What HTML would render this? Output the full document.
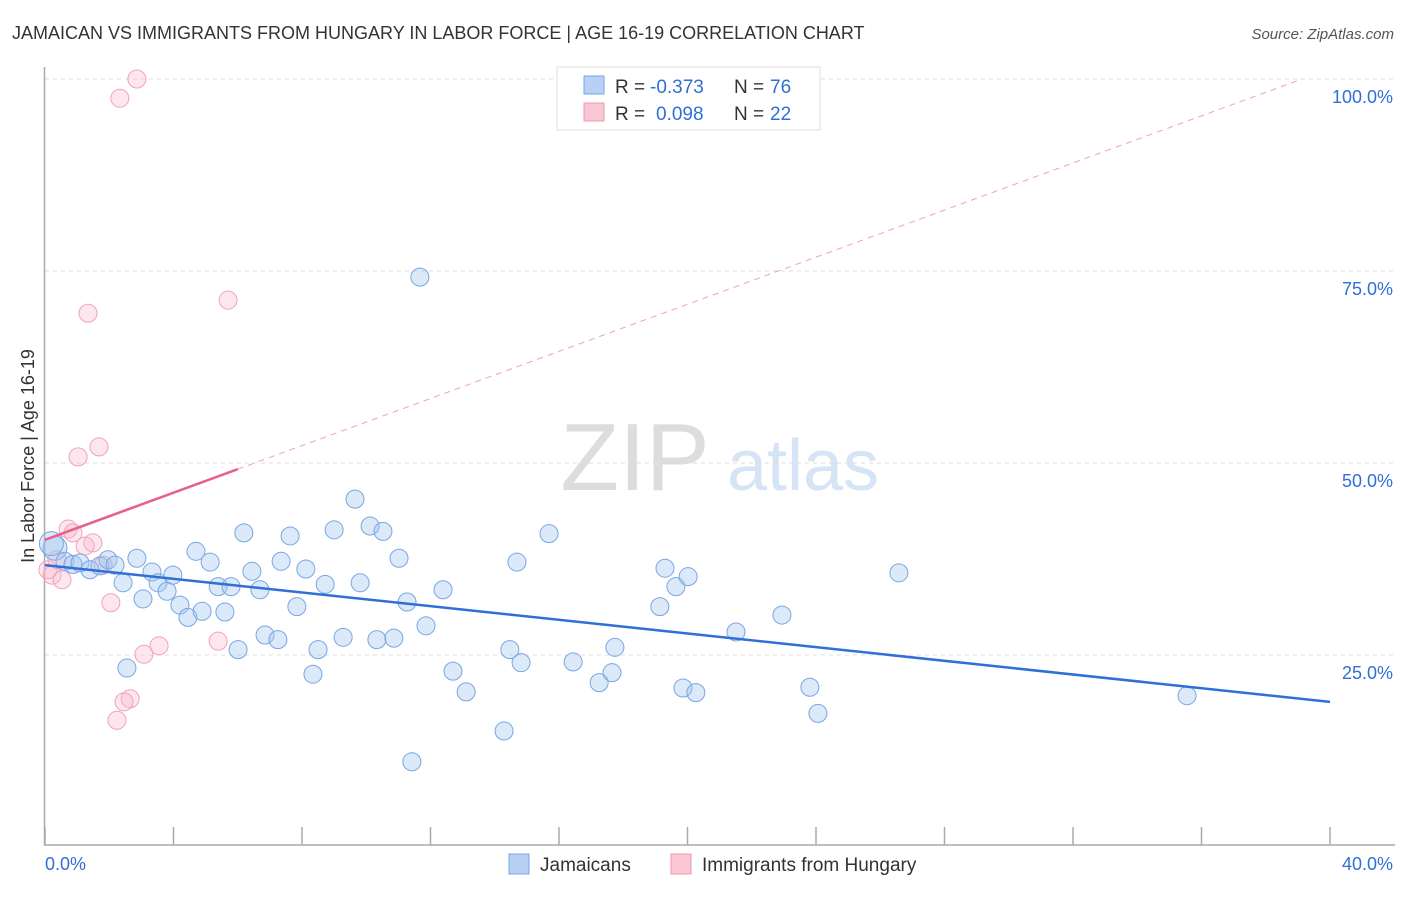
<!DOCTYPE html>
<html><head><meta charset="utf-8"><style>
body{margin:0;background:#fff;font-family:"Liberation Sans",sans-serif}
svg text{font-family:"Liberation Sans",sans-serif}
</style></head><body>
<svg width="1406" height="892" viewBox="0 0 1406 892" id="chart">
<text x="12" y="39" font-size="18" fill="#333">JAMAICAN VS IMMIGRANTS FROM HUNGARY IN LABOR FORCE | AGE 16-19 CORRELATION CHART</text>
<text x="1394" y="39" font-size="15" fill="#555" font-style="italic" text-anchor="end">Source: ZipAtlas.com</text>
<g>
<text x="635" y="490" font-size="96" fill="#ddd" font-family="Liberation Serif" text-anchor="middle">ZIP</text>
<text x="803" y="490" font-size="72" fill="#d6e4f5" text-anchor="middle">atlas</text>
</g>
<g id="grid"></g>
<g id="axes"></g>
<g id="marks"></g>
<text transform="translate(34,456) rotate(-90)" font-size="18" fill="#333" text-anchor="middle">In Labor Force | Age 16-19</text>
<g>
<rect x="557" y="67" width="263" height="63" fill="#fff" stroke="#ddd"/>
<rect x="584" y="76" width="20" height="18" fill="#b7d0f3" stroke="#7aa6e6"/>
<rect x="584" y="103" width="20" height="18" fill="#f9c6d4" stroke="#ee9ab2"/>
<text x="615" y="93" font-size="19" fill="#333">R =</text>
<text x="650" y="93" font-size="19" fill="#2f6fd6">-0.373</text>
<text x="734" y="93" font-size="19" fill="#333">N =</text>
<text x="770" y="93" font-size="19" fill="#2f6fd6">76</text>
<text x="615" y="120" font-size="19" fill="#333">R =</text>
<text x="656" y="120" font-size="19" fill="#2f6fd6">0.098</text>
<text x="734" y="120" font-size="19" fill="#333">N =</text>
<text x="770" y="120" font-size="19" fill="#2f6fd6">22</text>
</g>
<g>
<rect x="509" y="854" width="20" height="20" fill="#b7d0f3" stroke="#7aa6e6"/>
<text x="540" y="871" font-size="19" fill="#333">Jamaicans</text>
<rect x="671" y="854" width="20" height="20" fill="#f9c6d4" stroke="#ee9ab2"/>
<text x="702" y="871" font-size="19" fill="#333">Immigrants from Hungary</text>
</g>
</svg>
<script>
const yTicks=[25,50,75,100];
const yTickLabels=["25.0%","50.0%","75.0%","100.0%"];
const xTicks=[0,4,8,12,16,20,24,28,32,36,40];
const blueX=[0.31,0.62,0.87,1.09,1.40,1.71,1.96,2.18,2.43,2.86,3.05,3.33,3.52,3.80,3.98,4.20,4.45,4.70,4.89,5.14,5.39,5.60,5.79,6.01,6.19,6.44,6.69,6.85,7.25,7.35,7.63,7.84,8.12,8.34,8.50,8.72,9.00,9.28,9.65,9.81,10.12,10.33,10.52,10.86,11.02,11.27,11.42,11.67,11.86,12.39,12.70,13.11,14.29,14.47,14.69,14.82,15.69,16.44,17.25,17.65,17.74,19.14,19.30,19.64,19.86,20.02,20.26,21.51,22.94,23.81,24.06,26.58,35.55,2.55,0.2];
const blueY=[38.9,37.2,36.8,37.0,36.1,36.6,37.4,36.7,34.4,37.6,32.3,35.8,34.4,33.3,35.4,31.5,29.9,38.5,30.7,37.1,33.9,30.6,33.9,25.7,40.9,35.9,33.5,27.6,27.0,37.2,40.5,31.3,36.2,22.5,25.7,34.2,41.3,27.3,45.3,34.4,41.8,27.0,41.1,27.2,37.6,31.9,11.1,74.2,28.8,33.5,22.9,20.2,15.1,25.7,37.1,24.0,40.8,24.1,21.4,22.7,26.0,31.3,36.3,33.9,20.7,35.2,20.1,28.0,30.2,20.8,17.4,35.7,19.7,23.3,39.5];
const pinkX=[2.86,2.33,5.70,1.34,1.68,1.03,0.72,0.87,1.49,1.25,0.37,0.22,0.09,0.53,1.81,2.05,5.39,3.55,3.08,2.65,2.46,2.24];
const pinkY=[100.0,97.5,71.2,69.5,52.1,50.8,41.4,40.9,39.6,39.2,37.4,35.4,36.1,34.8,36.7,31.8,26.8,26.2,25.1,19.3,18.9,16.5];
const blueTrend=[36.7,18.9];
const pinkTrend=[40.0,49.2,6];
const NS="http://www.w3.org/2000/svg";
const X=v=>45+v/40*1285, Y=v=>847-v*7.68;
function mk(t,a,p){const e=document.createElementNS(NS,t);for(const k in a)e.setAttribute(k,a[k]);p.appendChild(e);return e;}
const grid=document.getElementById('grid'),axes=document.getElementById('axes'),marks=document.getElementById('marks');
yTicks.forEach((v,i)=>{
 const l=mk('line',{x1:45,x2:1395,y1:Y(v),y2:Y(v),stroke:'#ddd','stroke-dasharray':'4,4'},grid);
 
 
 const t=mk('text',{x:1393,y:Y(v)+24,'font-size':18,fill:'#2f6fd6','text-anchor':'end'},axes);
 t.textContent=yTickLabels[i];
 
 
});
const ya=mk('line',{x1:44.5,x2:44.5,y1:67,y2:845,stroke:'#aaa','stroke-width':1.5},axes);


const xa=mk('line',{x1:44,x2:1395,y1:845,y2:845,stroke:'#aaa','stroke-width':1.5},axes);


xTicks.forEach(v=>{
 const t=mk('line',{x1:X(v),x2:X(v),y1:827,y2:845,stroke:'#aaa','stroke-width':1.5},axes);
 
 
});
const x0=mk('text',{x:45,y:870,'font-size':18,fill:'#2f6fd6'},axes);x0.textContent='0.0%';


const x1=mk('text',{x:1393,y:870,'font-size':18,fill:'#2f6fd6','text-anchor':'end'},axes);x1.textContent='40.0%';


pinkX.forEach((v,i)=>{
 const c=mk('circle',{cx:X(v),cy:Y(pinkY[i]),r:9,fill:'rgba(248,182,202,0.35)',stroke:'#f0a3ba','stroke-width':1},marks);
 
 
});
blueX.forEach((v,i)=>{
 const big=i===0||i===blueX.length-1;
 const c=mk('circle',{cx:X(v),cy:Y(blueY[i]),r:big?12:9,fill:'rgba(160,196,240,0.38)',stroke:'#78a6e4','stroke-width':1},marks);
 
 
});
const bt=mk('line',{x1:X(0),y1:Y(blueTrend[0]),x2:X(40),y2:Y(blueTrend[1]),stroke:'#2f6fd6','stroke-width':2.5},marks);


const slope=(pinkTrend[1]-pinkTrend[0])/pinkTrend[2];
const xEnd=Math.min(40,(100-pinkTrend[0])/slope);
const pd=mk('line',{x1:X(pinkTrend[2]),y1:Y(pinkTrend[1]),x2:X(xEnd),y2:Y(pinkTrend[0]+slope*xEnd),stroke:'#f2a0b8','stroke-width':1,'stroke-dasharray':'6,5'},marks);


const ps=mk('line',{x1:X(0),y1:Y(pinkTrend[0]),x2:X(pinkTrend[2]),y2:Y(pinkTrend[1]),stroke:'#e8608a','stroke-width':2.5},marks);


</script>
</body></html>
